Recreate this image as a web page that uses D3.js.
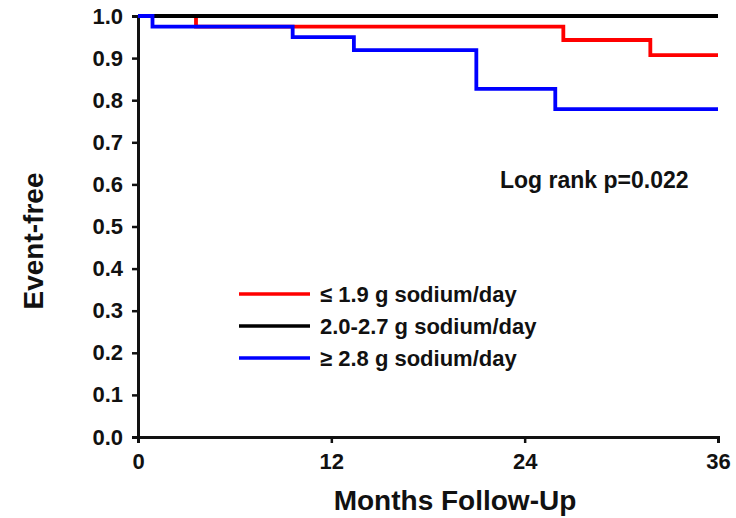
<!DOCTYPE html>
<html>
<head>
<meta charset="utf-8">
<script src="https://d3js.org/d3.v7.min.js"></script>
<style>
  body { margin: 0; background: #fff; }
  svg text { font-family: "Liberation Sans", Arial, sans-serif; font-weight: bold; fill: #111; }
</style>
</head>
<body>
<svg id="chart" width="736" height="518"></svg>
<script>
// Kaplan-Meier style step curves (months, event-free fraction)
const lowTimes = [0, 3.6, 26.4, 31.8, 36];
const lowSurv = [1.0, 0.975, 0.943, 0.907, 0.907];
const midTimes = [0, 36];
const midSurv = [1.0, 1.0];
const highTimes = [0, 0.9, 9.6, 13.4, 21.0, 25.9, 36];
const highSurv = [1.0, 0.975, 0.950, 0.919, 0.827, 0.779, 0.779];

const seriesNames = ["\u2264 1.9 g sodium/day", "2.0-2.7 g sodium/day", "\u2265 2.8 g sodium/day"];
const seriesColors = ["#ff0000", "#000000", "#0000ff"];
const xTicks = [0, 12, 24, 36];
const yTicks = [0, 0.1, 0.2, 0.3, 0.4, 0.5, 0.6, 0.7, 0.8, 0.9, 1.0];
const pText = "Log rank p=0.022";

const svg = d3.select("#chart");

const x = d3.scaleLinear().domain([0, 36]).range([138, 718]);
const y = d3.scaleLinear().domain([0, 1]).range([437, 16]);

const toPts = (t, s) => t.map((d, i) => [d, s[i]]);
const series = [
  { name: seriesNames[0], color: seriesColors[0], pts: toPts(lowTimes, lowSurv) },
  { name: seriesNames[1], color: seriesColors[1], pts: toPts(midTimes, midSurv) },
  { name: seriesNames[2], color: seriesColors[2], pts: toPts(highTimes, highSurv) }
];

// axes
const xAxis = svg.append("g")
  .attr("transform", "translate(0," + y(0) + ")")
  .call(d3.axisBottom(x).tickValues(xTicks).tickSize(6).tickPadding(10).tickFormat(d3.format("d")));
const yAxis = svg.append("g")
  .attr("transform", "translate(" + x(0) + ",0)")
  .call(d3.axisLeft(y).tickValues(yTicks).tickSize(6).tickPadding(9).tickFormat(d3.format(".1f")));

[xAxis, yAxis].forEach(a => {
  a.select(".domain").attr("stroke", "#111").attr("stroke-width", 3);
  a.selectAll(".tick line").attr("stroke", "#111").attr("stroke-width", 2.5);
  a.selectAll(".tick text").style("font-size", "22px").attr("fill", "#111");
});

// curves: red under black, blue on top
const line = d3.line().x(d => x(d[0])).y(d => y(d[1])).curve(d3.curveStepAfter);
[series[0], series[1], series[2]].forEach(s => {
  svg.append("path")
    .datum(s.pts)
    .attr("fill", "none")
    .attr("stroke", s.color)
    .attr("stroke-width", 3.8)
    .attr("d", line);
});

// legend
const legend = svg.append("g").attr("transform", "translate(239,294)");
series.forEach((s, i) => {
  const row = legend.append("g").attr("transform", "translate(0," + (i * 32) + ")");
  row.append("line").attr("x1", 0).attr("x2", 71).attr("y1", 0).attr("y2", 0)
    .attr("stroke", s.color).attr("stroke-width", 3.5);
  row.append("text").attr("x", 81).attr("y", 8).style("font-size", "22px").text(s.name);
});

svg.append("text").attr("x", 500).attr("y", 188).style("font-size", "23px").text(pText);

// axis titles
svg.append("text")
  .attr("transform", "translate(43,241) rotate(-90)")
  .attr("text-anchor", "middle")
  .style("font-size", "28px")
  .text("Event-free");
svg.append("text")
  .attr("x", 455).attr("y", 510)
  .attr("text-anchor", "middle")
  .style("font-size", "28px")
  .text("Months Follow-Up");
</script>
</body>
</html>
